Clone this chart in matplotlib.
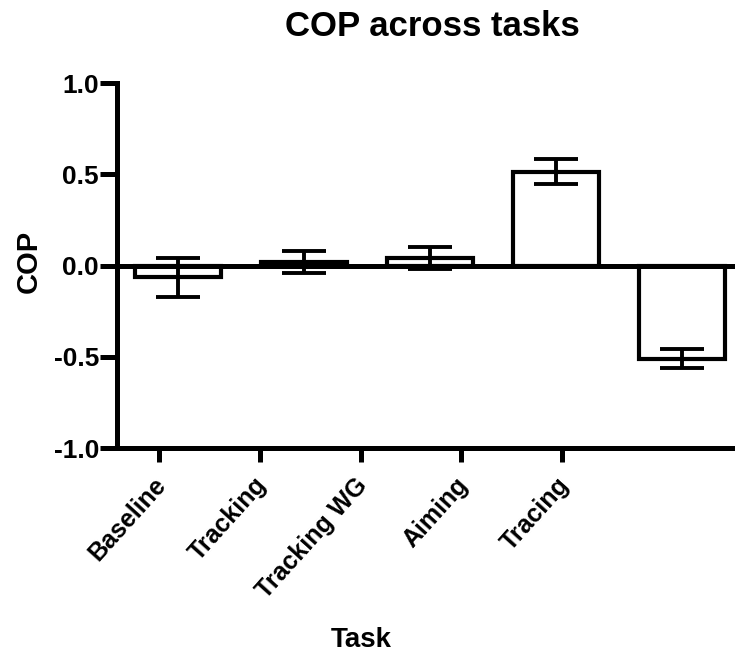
import matplotlib
matplotlib.use("Agg")
import matplotlib.pyplot as plt
from matplotlib.transforms import ScaledTranslation

tasks = ["Baseline", "Tracking", "Tracking WG", "Aiming", "Tracing"]
cop_mean = [-0.065, 0.02, 0.043, 0.515, -0.51]
cop_err = [0.105, 0.06, 0.06, 0.07, 0.053]
y_ticks = [-1.0, -0.5, 0.0, 0.5, 1.0]

plt.rcParams["font.family"] = ["Liberation Sans", "DejaVu Sans"]
plt.rcParams["font.weight"] = "bold"

fig = plt.figure(figsize=(7.35, 6.57), dpi=100)
ax = fig.add_axes([0.1592, 0.318, 0.8408, 0.5556])

x = list(range(len(tasks)))
ax.bar(x, cop_mean, width=0.68, color="white", edgecolor="black",
       linewidth=3, zorder=2)
ax.errorbar(x, cop_mean, yerr=cop_err, fmt="none", ecolor="black",
            elinewidth=2.8, capsize=15.5, capthick=2.8, zorder=3)
ax.axhline(0, color="black", linewidth=3.6, zorder=4)

ax.set_xlim(-0.484, 4.421)
ax.set_ylim(-1.0, 1.0)

# ticks in the original are not lined up with the bars
ax.set_xticks([-0.15 + 0.8 * i for i in range(len(tasks))])
ax.set_xticklabels(tasks, rotation=48, ha="right", rotation_mode="anchor",
                   fontsize=18, fontweight="bold")
ax.set_yticks(y_ticks)
ax.set_yticklabels(["%.1f" % v for v in y_ticks], fontsize=19,
                   fontweight="bold")
ax.tick_params(axis="both", width=3.6, color="black")
ax.tick_params(axis="x", length=10, pad=8)
ax.tick_params(axis="y", length=12, pad=1)

# nudge rotated labels a bit left, like the original
shift = ScaledTranslation(-0.06, 0.0, fig.dpi_scale_trans)
for lbl in ax.get_xticklabels():
    lbl.set_transform(lbl.get_transform() + shift)

for s in ["top", "right"]:
    ax.spines[s].set_visible(False)
for s in ["left", "bottom"]:
    ax.spines[s].set_linewidth(3.6)

ax.set_ylabel("COP", fontsize=21, fontweight="bold")
ax.yaxis.set_label_coords(-0.12, 0.51)
ax.set_xlabel("Task", fontsize=20, fontweight="bold", va="center")
ax.xaxis.set_label_coords((361 - 117) / 618, -0.526)

fig.text(432 / 735, 1 - 26 / 657, "COP across tasks", fontsize=25,
         fontweight="bold", ha="center", va="center")

fig.savefig("out.png", dpi=100)
